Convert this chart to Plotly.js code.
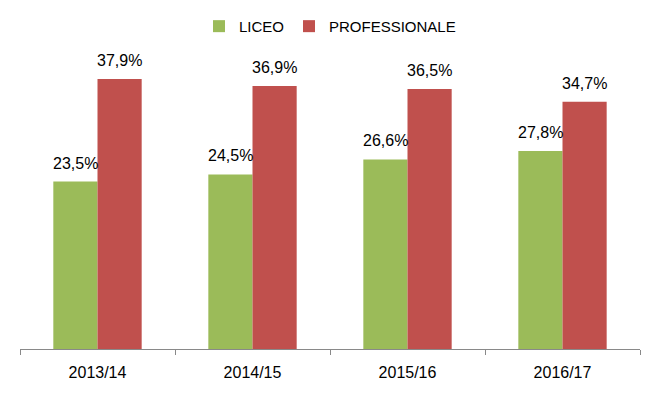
<!DOCTYPE html>
<html>
<head>
<meta charset="utf-8">
<script src="https://cdn.plot.ly/plotly-3.0.1.min.js"></script>
<style>html,body{margin:0;padding:0;background:#fff;}#chart{width:660px;height:396px;}</style>
</head>
<body>
<div id="chart"></div>
<script>
var categories = ["2013/14", "2014/15", "2015/16", "2016/17"];
var liceo = [23.5, 24.5, 26.6, 27.8];
var professionale = [37.9, 36.9, 36.5, 34.7];
var seriesNames = ["LICEO", "PROFESSIONALE"];

function fmt(v) { return v.toFixed(1).replace('.', ',') + '%'; }

var font = "Liberation Sans, Arial, Helvetica, sans-serif";
var W = 660, H = 396, ML = 20, MR = 20, MT = 64, MB = 47;
var bargap = 0.43;
var catW = (W - ML - MR) / categories.length;
var barW = catW * (1 - bargap) / 2;

var traces = [
  {
    type: 'bar', name: seriesNames[0], x: categories, y: liceo,
    marker: {color: '#9BBB59'}, hoverinfo: 'none'
  },
  {
    type: 'bar', name: seriesNames[1], x: categories, y: professionale,
    marker: {color: '#C0504D'}, hoverinfo: 'none'
  }
];

var annotations = [];
[liceo, professionale].forEach(function (vals, si) {
  var shift = (si === 0 ? -1 : 1) * barW / 2;
  vals.forEach(function (v, i) {
    annotations.push({
      x: categories[i], y: v, xref: 'x', yref: 'y',
      text: fmt(v), showarrow: false, xanchor: 'center', yanchor: 'bottom',
      xshift: shift, yshift: 8,
      font: {family: font, size: 16, color: '#000'}
    });
  });
});

var layout = {
  width: W, height: H,
  margin: {l: ML, r: MR, t: MT, b: MB},
  paper_bgcolor: '#fff', plot_bgcolor: '#fff',
  font: {family: font, color: '#000'},
  barmode: 'group', bargap: bargap, bargroupgap: 0,
  showlegend: true,
  legend: {
    orientation: 'h', x: 0.5, xanchor: 'center', yref: 'container', y: 0.975, yanchor: 'top',
    font: {family: font, size: 15, color: '#000'}, traceorder: 'normal'
  },
  annotations: annotations,
  xaxis: {
    type: 'category', showline: true, linecolor: '#898989', linewidth: 1,
    ticks: 'outside', tickson: 'boundaries', ticklen: 5, tickcolor: '#898989',
    ticklabelstandoff: 9,
    tickfont: {family: font, size: 16, color: '#000'}, showgrid: false, zeroline: false, fixedrange: true
  },
  yaxis: {
    range: [0, 40], visible: false, showgrid: false, zeroline: false, fixedrange: true
  }
};

Plotly.newPlot('chart', traces, layout, {displayModeBar: false, staticPlot: true});
</script>
</body>
</html>
